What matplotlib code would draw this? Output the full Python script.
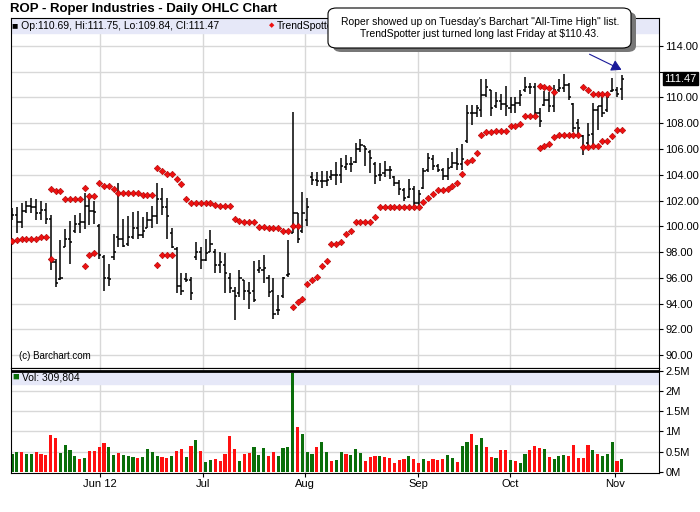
import numpy as np
import matplotlib
matplotlib.use("Agg")
import matplotlib.pyplot as plt
from matplotlib.patches import FancyBboxPatch
plt.rcParams['font.family'] = ['Liberation Sans', 'DejaVu Sans']

highs = [101.4,101.5,101.8,102.0,102.2,102.1,102.0,101.8,100.9,97.5,98.9,99.8,100.4,100.9,101.0,102.6,102.5,102.0,100.2,97.8,
         97.1,99.4,103.4,100.6,100.8,101.1,101.2,100.7,101.1,101.6,103.4,103.0,102.2,99.9,98.4,96.4,96.4,96.1,98.8,98.4,
         99.0,99.7,98.2,98.0,97.9,96.4,95.3,96.6,95.8,95.7,97.3,97.4,97.8,96.2,96.0,94.7,96.1,98.9,108.9,101.0,
         102.7,102.2,104.2,104.2,104.3,104.3,104.4,105.0,105.3,105.5,105.4,106.5,106.8,106.2,105.9,105.0,104.9,105.1,104.7,103.9,
         103.6,103.0,103.7,103.1,102.8,104.5,105.7,105.5,104.8,104.5,105.3,105.8,106.1,106.4,109.4,109.4,109.4,111.4,111.4,110.6,
         110.4,110.3,110.9,110.0,110.0,110.6,111.6,111.1,111.1,109.2,110.5,110.4,111.0,111.4,111.8,111.1,109.6,108.3,107.1,108.0,
         109.6,109.3,110.0,110.4,111.5,110.8,111.75]
lows = [100.5,99.5,99.9,101.0,101.0,100.5,100.5,100.2,96.6,95.3,95.8,98.4,97.1,99.5,99.5,99.8,100.1,100.2,97.5,95.0,
        95.4,97.4,98.4,98.4,98.5,99.0,99.0,99.1,99.9,99.9,100.2,100.9,99.0,98.3,94.8,94.7,95.7,94.3,97.4,96.7,
        97.3,98.0,96.4,96.4,94.8,94.8,92.7,94.5,94.3,93.6,94.1,96.4,95.6,94.5,92.8,93.1,94.4,96.1,99.5,98.7,
        99.5,100.0,103.2,103.1,103.0,103.1,103.6,103.2,103.4,104.4,104.2,104.9,105.8,104.7,104.1,103.3,103.5,103.8,103.7,103.1,
        102.4,102.0,102.2,101.3,101.5,102.9,104.2,104.4,104.2,103.6,103.6,104.5,104.4,104.4,106.5,107.9,108.5,108.5,110.0,108.6,
        109.2,109.0,108.6,108.8,108.8,109.3,110.4,110.3,108.6,107.7,109.3,108.9,108.9,110.4,110.4,109.8,107.3,106.9,105.5,106.2,
        106.3,107.5,108.5,108.9,110.4,110.0,109.84]
closes = [100.9,100.3,101.2,101.6,101.5,101.0,101.3,100.6,97.2,95.6,96.0,99.0,98.8,100.2,100.3,101.6,101.2,101.1,97.8,96.0,
          95.9,98.0,99.0,98.5,99.2,99.9,99.3,99.6,100.5,100.8,102.1,101.5,100.8,98.4,95.4,95.0,95.8,94.8,98.0,97.4,
          97.9,98.6,97.0,97.2,96.4,95.2,94.6,96.0,95.0,94.8,94.3,96.8,96.8,94.9,93.2,93.5,96.0,96.3,101.0,99.0,
          101.0,101.5,103.6,103.5,103.5,103.6,104.0,104.0,104.7,104.8,104.8,106.0,106.3,106.0,105.3,103.9,104.0,104.4,104.4,103.4,
          102.9,102.2,102.9,101.8,102.5,104.3,105.3,104.7,104.4,103.9,104.5,104.9,104.8,105.2,108.8,108.8,109.2,110.2,110.8,109.2,
          109.7,109.5,109.3,109.4,109.6,110.2,110.8,110.8,108.8,108.2,109.8,109.3,110.6,110.7,111.0,110.0,107.6,107.6,106.2,107.1,
          109.0,109.3,108.8,110.0,110.6,110.3,111.47]
opens = [101.0,100.9,100.3,101.2,101.6,101.5,101.0,101.3,100.6,97.2,95.9,98.4,99.0,99.6,100.2,100.3,101.6,101.2,100.0,97.6,
         96.0,97.6,99.2,99.0,98.6,99.2,99.9,99.3,99.9,100.5,100.8,102.1,101.5,99.5,98.2,95.4,95.9,95.8,97.6,98.0,
         97.4,98.0,98.0,97.0,97.0,96.0,95.0,94.8,95.9,95.0,95.0,96.6,96.6,96.0,95.0,93.5,94.6,96.2,96.5,101.0,
         99.6,100.5,103.8,103.6,103.5,103.5,103.8,104.0,104.0,104.6,104.8,105.0,106.0,106.2,105.8,104.8,104.0,104.1,104.4,103.8,
         103.4,102.8,102.3,102.9,101.8,103.0,104.4,105.2,104.7,104.4,103.9,104.6,104.9,104.8,106.6,108.8,108.8,109.0,110.2,110.6,
         109.3,109.7,109.5,109.2,109.4,109.6,110.6,110.8,110.8,108.8,109.4,109.8,109.3,110.6,110.7,111.0,109.5,108.0,107.0,106.5,
         107.2,109.0,109.3,109.0,110.5,110.6,110.69]

ts_upper = {8:102.9,9:102.74,10:102.74,11:102.09,12:102.09,13:102.09,14:102.09,15:102.95,16:102.35,17:102.35,
            18:103.33,19:103.13,20:103.13,21:102.9,22:102.56,23:102.56,24:102.56,25:102.56,26:102.56,27:102.43,28:102.43,29:102.43,
            30:104.5,31:104.3,32:104.05,33:104.05,34:103.7,35:103.26,36:102.1,37:101.78,38:101.78,39:101.78,40:101.78,41:101.78,
            42:101.65,43:101.6,44:101.6,45:101.6,46:100.6,47:100.4,48:100.37,49:100.37,50:100.37,51:99.97,52:99.97,53:99.9,54:99.9,55:99.9,
            56:99.6,57:99.6,58:100.05,59:100.05,
            109:110.9,110:110.8,111:110.7,112:110.4,118:110.85,119:110.58,120:110.27,121:110.27,122:110.27,123:110.27}
ts_lower = {0:98.88,1:98.9,2:99.0,3:99.05,4:99.05,5:99.05,6:99.15,7:99.15,8:97.5,15:96.9,16:97.77,17:97.9,30:97.0,31:97.77,32:97.77,33:97.77,
            58:93.7,59:94.1,60:94.33,61:95.5,62:95.8,63:96.1,64:96.9,65:97.3,66:98.6,67:98.6,68:98.75,69:99.37,70:99.6,
            71:100.37,72:100.37,73:100.37,74:100.37,75:100.7,76:101.47,77:101.47,78:101.47,79:101.47,80:101.47,81:101.47,82:101.47,83:101.47,84:101.47,
            85:101.86,86:102.17,87:102.5,88:102.8,89:102.8,90:102.87,91:103.13,92:103.33,93:104.05,94:105.0,95:105.15,96:105.67,97:107.05,
            98:107.35,99:107.35,100:107.4,101:107.4,102:107.4,103:107.75,104:107.8,105:107.95,106:108.56,107:108.6,108:108.6,
            109:106.05,110:106.25,111:106.4,112:106.9,113:107.09,114:107.09,115:107.09,116:107.09,117:107.09,
            118:106.13,119:106.13,120:106.26,121:106.26,122:106.62,123:106.62,124:107.0,125:107.47,126:107.47}

volumes = [0.45,
           0.48,0.48,0.44,0.44,0.48,0.44,0.41,0.91,0.83,0.46,0.66,0.54,0.39,0.31,0.34,0.51,0.51,0.61,0.71,0.61,
           0.41,0.46,0.41,0.39,0.36,0.34,0.36,0.56,0.49,0.39,0.36,0.34,0.39,0.51,0.56,0.36,0.64,0.79,0.51,0.24,
           0.29,0.31,0.26,0.44,0.88,0.56,0.26,0.44,0.46,0.61,0.41,0.59,0.39,0.49,0.39,0.59,0.61,
           2.44,1.11,0.93,0.49,0.44,0.61,0.74,0.49,
           0.26,0.29,0.49,0.44,0.41,0.56,0.46,0.26,0.36,0.39,0.39,0.36,0.34,0.21,0.29,0.31,0.39,0.31,0.21,0.31,
           0.26,0.31,0.29,0.31,0.41,0.34,0.24,0.64,0.74,0.93,0.66,0.83,0.61,0.36,0.34,0.54,0.54,0.29,0.26,0.21,
           0.44,0.54,0.64,0.59,0.56,0.36,0.31,0.39,0.41,0.39,0.66,0.34,0.34,0.66,0.54,0.44,0.39,0.44,0.74,0.26,0.31]
vol_dir = ("g" + "grggrrrrrg" "gggrgrrrrg" "grgggrgggg" "rrgrrgrgrg" "grrrrrgrrg" "ggrrggg" + "g" + "rgggrgg"
           + "rggrgggrrr" "grrrrrgrrg" "rrrrggrggr" "ggrrgrrgrg" "grrrgrgggr" "rrrrgrgggr" "g")

month_labels = ["Jun 12", "Jul", "Aug", "Sep", "Oct", "Nov"]
month_pos = [18.2, 39.5, 60.5, 83.9, 102.9, 124.6]

W, H = 700, 512
fig = plt.figure(figsize=(7, 5.12), dpi=100)
def rect(l, t, r, b):
    return [l / W, 1 - b / H, (r - l) / W, (b - t) / H]

R = 659
ax = fig.add_axes(rect(11, 18, R, 368))
av = fig.add_axes(rect(11, 368, R, 473))
XMAX = (R - 12) / 4.84
n = len(closes)
x = np.arange(n)
hi = np.array(highs); lo = np.array(lows)
op = np.clip(np.array(opens), lo, hi); cl = np.clip(np.array(closes), lo, hi)

grid = "#d8d8d8"
ax.set_xlim(-0.2, XMAX)
ax.set_ylim(89.0, 116.17)
ax.axhspan(115.0, 116.17, color="#e6e8f8", zorder=1)
for p in range(90, 116, 2):
    ax.axhline(p, color=grid, lw=1, zorder=0)
for m in month_pos:
    ax.axvline(m, color=grid, lw=1, zorder=0)
ax.vlines(x, lo, hi, color="black", lw=1.1, zorder=3)
ax.hlines(op, x - 0.45, x, color="black", lw=1.1, zorder=3)
ax.hlines(cl, x, x + 0.45, color="black", lw=1.1, zorder=3)
ku = sorted(ts_upper); kl = sorted(ts_lower)
ax.scatter(ku, [ts_upper[k] for k in ku], marker="D", s=11, color="#ee1111", edgecolor="#aa0000", lw=0.4, zorder=4)
ax.scatter(kl, [ts_lower[k] for k in kl], marker="D", s=11, color="#ee1111", edgecolor="#aa0000", lw=0.4, zorder=4)
ax.yaxis.tick_right()
yt = list(range(90, 116, 2))
ax.set_yticks(yt)
ax.set_yticklabels(["" if v == 112 else f"{v:.2f}" for v in yt], fontsize=8)
ax.set_xticks([])
ax.tick_params(axis="y", length=3, pad=1.5)
ax.text(0.012, 0.027, "(c) Barchart.com", transform=ax.transAxes, fontsize=7)
ax.text(0.006, 115.55, "■ Op:110.69, Hi:111.75, Lo:109.84, Cl:111.47", fontsize=7.5, va="center", zorder=5)
ax.text(53.0, 115.55, "◆", fontsize=5, color="#ee1111", va="center", zorder=5)
ax.text(54.8, 115.55, "TrendSpotter", fontsize=7.5, va="center", zorder=5)
ax.text(1.008, (111.47 - 89.0) / (116.17 - 89.0), "111.47", transform=ax.transAxes, fontsize=8,
        color="white", va="center", ha="left", bbox=dict(boxstyle="square,pad=0.12", fc="black", ec="black"), zorder=6)

av.set_xlim(-0.2, XMAX)
av.set_ylim(-0.03, 2.575)
av.axhspan(2.18, 2.5, color="#e6e8f8", zorder=1)
for v in [0.5, 1, 1.5, 2]:
    av.axhline(v, color=grid, lw=1, zorder=0)
for m in month_pos:
    av.axvline(m, color=grid, lw=1, zorder=0)
cols = ["#0a6e0a" if c == "g" else "#ff1010" for c in vol_dir]
av.bar(x, volumes, width=0.65, color=cols, zorder=2)
av.axhline(2.5, color="black", lw=2, zorder=5)
av.yaxis.tick_right()
av.set_yticks([0, 0.5, 1, 1.5, 2, 2.5])
av.set_yticklabels(["0M", "0.5M", "1M", "1.5M", "2M", "2.5M"], fontsize=8)
av.set_xticks(month_pos)
av.set_xticklabels(month_labels, fontsize=8)
av.tick_params(axis="both", length=3, pad=1.5)
av.text(0.006, 2.35, "■", fontsize=8, color="#0a6e0a", va="center", zorder=6)
av.text(2.0, 2.35, "Vol: 309,804", fontsize=7.5, va="center", zorder=6)

fig.text(10 / W, 1 - 9 / H, "ROP - Roper Industries - Daily OHLC Chart", fontsize=9.5, fontweight="bold", va="center")

# callout
shadow = FancyBboxPatch((333 / W, 1 - 52 / H), 303 / W, 40 / H, boxstyle="round,pad=0,rounding_size=0.012",
                        transform=fig.transFigure, fc="#777777", ec="none", zorder=9)
box = FancyBboxPatch((328 / W, 1 - 48 / H), 303 / W, 40 / H, boxstyle="round,pad=0,rounding_size=0.012",
                     transform=fig.transFigure, fc="white", ec="black", lw=0.8, zorder=10)
fig.add_artist(shadow); fig.add_artist(box)
fig.text(480 / W, 1 - 28 / H, "Roper showed up on Tuesday's Barchart \"All-Time High\" list.\nTrendSpotter just turned long last Friday at $110.43.",
         fontsize=7.5, ha="center", va="center", zorder=11, linespacing=1.3)
fig.add_artist(matplotlib.patches.FancyArrowPatch((587 / W, 1 - 53 / H), (624 / W, 1 - 71 / H), transform=fig.transFigure,
               arrowstyle="-|>,head_length=6,head_width=3.5", color="#1a1a99", lw=0.8, zorder=11))

fig.savefig("out.png", dpi=100)
